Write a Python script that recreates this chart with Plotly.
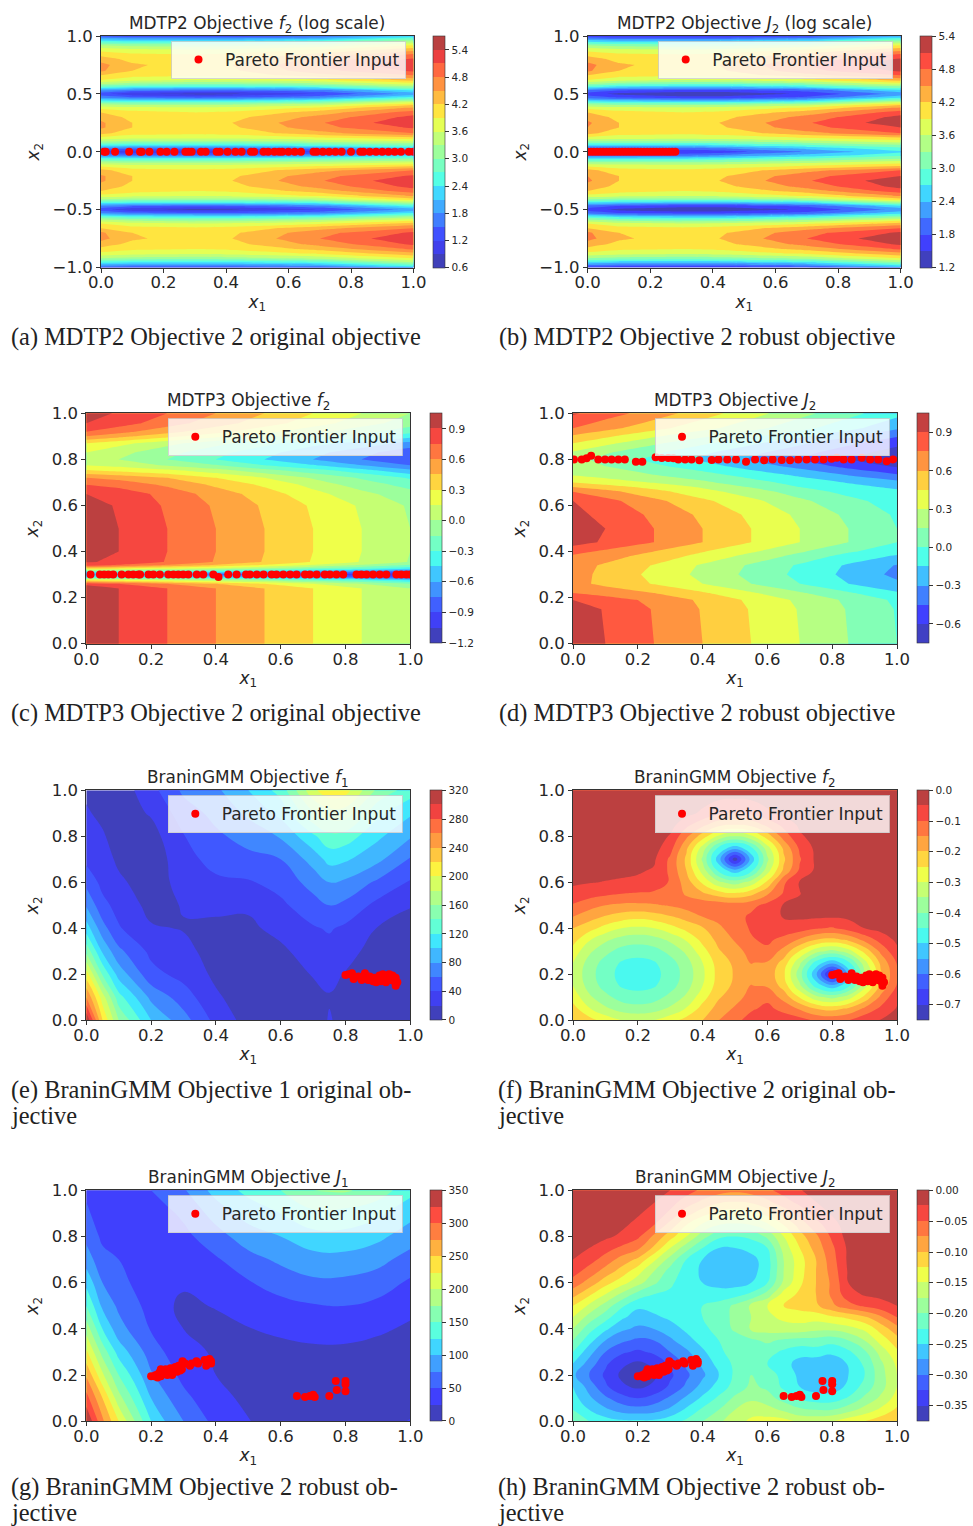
import plotly.graph_objects as go

# ---------- contour data ----------
A_X = [0, .1, .3, .42, .7, 1]
A_Y_UP = [0, .03, .06, .09, .12, .16, .21, .25, .30, .34, .38, .41, .44, .47, .5, .53, .56, .59, .62, .66, .7, .75, .8, .84, .88, .92, .96, 1]
A_Z_UP = [
 [1.1,1.0,1.0,1.0,1.1,1.4],[1.7,1.6,1.6,1.6,1.8,2.2],[2.6,2.5,2.5,2.5,2.7,3.0],[3.3,3.2,3.2,3.2,3.4,3.6],
 [3.8,3.7,3.7,3.7,3.85,4.1],[4.3,4.0,3.95,4.0,4.4,4.8],[4.55,4.2,4.05,4.15,4.7,5.15],[4.55,4.2,4.05,4.2,4.77,5.35],
 [4.4,4.1,4.0,4.1,4.6,5.2],[4.2,4.0,3.9,3.95,4.35,4.95],[3.8,3.7,3.65,3.7,3.95,4.55],[3.3,3.2,3.2,3.2,3.4,4.1],
 [2.5,2.4,2.4,2.4,2.6,3.3],[1.7,1.5,1.4,1.45,1.7,2.5],[1.3,.95,.8,.85,1.2,1.9],[1.8,1.6,1.5,1.5,1.7,2.4],
 [2.7,2.5,2.4,2.4,2.6,3.2],[3.4,3.2,3.1,3.1,3.3,3.8],[3.9,3.7,3.6,3.65,3.85,4.3],[4.2,4.0,3.95,4.0,4.4,4.8],
 [4.55,4.2,4.0,4.15,4.7,5.15],[4.6,4.25,4.05,4.2,4.8,5.35],[4.35,4.1,4.0,4.1,4.6,5.15],[4.1,3.95,3.9,3.95,4.3,4.85],
 [3.8,3.7,3.65,3.7,3.95,4.4],[3.3,3.2,3.15,3.2,3.4,3.9],[2.4,2.3,2.3,2.3,2.5,3.2],[1.4,1.3,1.3,1.3,1.5,2.2]]
B_Z_UP = [
 [1.4,1.4,1.5,1.62,2.12,2.65],[1.9,1.9,2.0,2.1,2.5,2.9],[2.7,2.7,2.7,2.8,3.0,3.3],[3.3,3.3,3.3,3.3,3.5,3.75],
 [3.8,3.75,3.7,3.75,3.9,4.15],[4.3,4.0,3.95,4.0,4.4,4.8],[4.5,4.2,4.05,4.15,4.7,5.1],[4.55,4.2,4.05,4.2,4.77,5.3],
 [4.4,4.1,4.0,4.1,4.6,5.2],[4.2,4.0,3.9,3.95,4.35,4.95],[3.8,3.7,3.65,3.7,3.95,4.55],[3.3,3.2,3.2,3.2,3.4,4.1],
 [2.6,2.5,2.4,2.4,2.6,3.3],[1.95,1.75,1.6,1.6,1.85,2.6],[1.65,1.4,1.25,1.25,1.55,2.2],[2.0,1.8,1.7,1.7,1.9,2.6],
 [2.8,2.6,2.5,2.5,2.7,3.2],[3.4,3.2,3.1,3.1,3.3,3.8],[3.9,3.7,3.6,3.65,3.85,4.3],[4.2,4.0,3.95,4.0,4.4,4.8],
 [4.55,4.2,4.0,4.15,4.7,5.15],[4.6,4.25,4.05,4.2,4.8,5.35],[4.35,4.1,4.0,4.1,4.6,5.15],[4.1,3.95,3.9,3.95,4.3,4.85],
 [3.8,3.7,3.65,3.7,3.95,4.4],[3.3,3.2,3.15,3.2,3.4,3.9],[2.5,2.4,2.4,2.4,2.6,3.2],[1.6,1.5,1.5,1.5,1.7,2.3]]

C_X = [0, .1, .25, .4, .55, .7, .85, 1]
C_Y = [0, .24, .26, .275, .29, .3, .31, .325, .34, .355, .4, .5, .6, .65, .69, .72, .75, .775, .8, .83, .87, .9, .92, .957, 1]
C_Z = [
 [1,.9,.75,.6,.45,.3,.15,0],[1,.9,.75,.6,.45,.3,.15,0],[.85,.75,.6,.45,.3,.15,0,-.15],[.3,.25,.15,.05,-.05,-.2,-.3,-.45],
 [-.4,-.4,-.45,-.5,-.6,-.7,-.8,-.9],[-.6,-.65,-.7,-.8,-.85,-.9,-1.0,-1.1],[-.4,-.4,-.45,-.5,-.6,-.7,-.8,-.9],
 [.3,.25,.15,.05,-.05,-.2,-.3,-.45],[.8,.72,.57,.42,.27,.12,-.03,-.18],[.91,.88,.74,.59,.44,.29,.14,-.01],
 [1,.9,.75,.6,.45,.3,.15,0],[1,.9,.75,.6,.45,.3,.15,0],[.98,.88,.73,.58,.43,.28,.13,-.02],[.9,.84,.7,.53,.38,.2,.05,-.1],
 [.75,.7,.57,.42,.27,.1,-.08,-.2],[.6,.55,.45,.3,.15,-.02,-.17,-.32],[.33,.28,.2,.08,-.08,-.22,-.37,-.55],
 [.15,.1,-.02,-.14,-.3,-.44,-.6,-.75],[.1,0,-.15,-.3,-.45,-.6,-.75,-.9],[.15,.05,-.1,-.25,-.4,-.55,-.7,-.85],
 [.3,.2,.05,-.1,-.25,-.4,-.5,-.65],[.6,.5,.35,.2,.05,-.1,-.25,-.4],[.75,.65,.5,.35,.2,.05,-.1,-.25],
 [.9,.82,.67,.52,.37,.22,.07,-.08],[.98,.88,.75,.6,.45,.3,.15,0]]

D_Y = [0, .15, .19, .22, .26, .3, .34, .38, .4, .44, .5, .56, .62, .66, .68, .7, .73, .77, .8, .83, .87, .905, .935, 1]
D_Z = [
 [1.0,.9,.75,.6,.45,.3,.15,0],[.97,.89,.74,.59,.44,.29,.14,-.01],[.9,.81,.72,.57,.42,.27,.12,-.03],[.75,.70,.6,.47,.32,.17,.02,-.13],
 [.65,.56,.44,.3,.15,0,-.15,-.27],[.66,.56,.41,.26,.11,-.04,-.19,-.34],[.66,.58,.44,.28,.13,-.02,-.17,-.31],[.73,.66,.54,.4,.25,.1,-.06,-.17],
 [.8,.72,.6,.46,.32,.17,.02,-.08],[.96,.88,.75,.6,.45,.3,.15,0],[1.0,.9,.75,.6,.45,.3,.15,0],[.94,.86,.72,.57,.42,.27,.12,-.02],
 [.9,.8,.64,.48,.34,.18,.05,-.08],[.75,.65,.5,.36,.22,.08,-.05,-.12],[.6,.52,.4,.28,.14,0,-.1,-.18],[.45,.38,.29,.18,.06,-.06,-.16,-.25],
 [.3,.25,.16,.07,-.05,-.17,-.3,-.42],[.22,.15,.03,-.08,-.22,-.35,-.5,-.62],[.2,.1,-.04,-.18,-.32,-.46,-.6,-.75],[.28,.17,.03,-.12,-.26,-.4,-.53,-.68],
 [.45,.34,.18,.03,-.12,-.27,-.42,-.55],[.6,.5,.34,.2,.05,-.1,-.25,-.42],[.75,.65,.5,.35,.2,.05,-.1,-.28],[.92,.82,.68,.52,.36,.2,.05,-.1]]

TENTHS = [0, .1, .2, .3, .4, .5, .6, .7, .8, .9, 1]
TWENTIETHS = [0,.05,.1,.15,.2,.25,.3,.35,.4,.45,.5,.55,.6,.65,.7,.75,.8,.85,.9,.95,1]
E_X = [0, .05, .1, .2, .3, .4, .5, .6, .7, .75, .8, .9, 1]
E_Z = [
 [320,220,160,100,68,34,12,8,13,21,16,10,8],
 [260,190,128,75,50,23,9,8,15,19,15,8,6],
 [210,138,92,47,33,16,8,11,21,24,19,9,6],
 [155,97,65,35,25,13,11,16,30,33,26,13,8],
 [110,68,42,22,19,15,16,26,38,42,36,19,13],
 [78,46,33,14,21,25,23,36,52,60,55,34,21],
 [54,34,24,9,28,36,38,47,68,80,76,56,38],
 [35,29,16,7,33,47,54,60,88,107,103,85,58],
 [28,22,12,12,39,56,68,82,116,134,131,104,82],
 [22,16,10,22,50,66,84,106,158,170,170,125,103],
 [17,12,8,33,64,76,100,128,195,215,208,155,130]]
G_X = [0, .05, .1, .2, .25, .3, .4, .5, .6, .7, .8, .9, 1]
G_Z = [
 [350,280,225,125,96,75,42,26,14,8,6,10,27],
 [310,250,185,100,77,57,32,20,10,5,4,7,8],
 [272,205,150,78,60,43,25,16,9,7,7,9,6],
 [230,165,115,63,47,36,21,16,17,20,20,16,10],
 [190,125,85,48,33,25,20,24,30,34,34,29,21],
 [150,95,70,41,27,22,26,37,43,48,50,44,32],
 [118,75,58,35,26,27,36,48,60,70,69,62,46],
 [88,58,50,31,31,33,47,66,80,90,91,83,65],
 [68,45,40,32,36,43,65,88,100,116,117,106,87],
 [55,36,32,38,45,55,85,110,125,145,142,130,108],
 [45,30,28,50,61,72,110,132,150,175,178,165,133]]
F_Y = [0,.05,.1,.15,.2,.25,.3,.35,.4,.45,.5,.55,.6,.65,.7,.75,.8,.85,.9,1]
F_Z = [
 [-.2,-.23,-.27,-.3,-.31,-.3,-.27,-.23,-.2,-.15,-.114,-.08,-.066,-.071,-.079,-.108,-.114,-.101,-.064,-.047,-.03],
 [-.23,-.295,-.34,-.37,-.38,-.37,-.34,-.295,-.23,-.18,-.142,-.107,-.088,-.115,-.156,-.2,-.215,-.192,-.14,-.088,-.046],
 [-.27,-.34,-.385,-.42,-.43,-.42,-.385,-.34,-.27,-.205,-.171,-.13,-.112,-.168,-.253,-.332,-.366,-.323,-.235,-.138,-.061],
 [-.3,-.37,-.42,-.455,-.465,-.455,-.42,-.37,-.3,-.225,-.19,-.149,-.155,-.22,-.34,-.472,-.537,-.463,-.321,-.188,-.096],
 [-.31,-.38,-.43,-.465,-.47,-.465,-.43,-.38,-.31,-.23,-.195,-.155,-.167,-.24,-.38,-.542,-.737,-.533,-.361,-.208,-.106],
 [-.3,-.37,-.42,-.455,-.465,-.455,-.42,-.37,-.3,-.225,-.19,-.149,-.155,-.22,-.34,-.472,-.537,-.463,-.321,-.188,-.096],
 [-.27,-.34,-.385,-.42,-.43,-.42,-.385,-.34,-.27,-.205,-.171,-.13,-.112,-.168,-.253,-.332,-.366,-.323,-.235,-.138,-.061],
 [-.23,-.295,-.34,-.37,-.38,-.37,-.34,-.295,-.235,-.185,-.145,-.105,-.09,-.115,-.156,-.2,-.215,-.19,-.135,-.08,-.04],
 [-.2,-.23,-.27,-.3,-.31,-.3,-.27,-.235,-.205,-.16,-.125,-.095,-.08,-.07,-.075,-.095,-.105,-.08,-.05,-.035,-.025],
 [-.15,-.18,-.205,-.225,-.235,-.225,-.205,-.18,-.15,-.135,-.12,-.09,-.068,-.047,-.042,-.043,-.045,-.04,-.033,-.026,-.018],
 [-.105,-.13,-.15,-.16,-.16,-.155,-.145,-.13,-.115,-.115,-.125,-.115,-.085,-.045,-.036,-.03,-.025,-.02,-.015,-.012,-.01],
 [-.065,-.08,-.09,-.1,-.105,-.11,-.125,-.155,-.19,-.225,-.24,-.215,-.155,-.095,-.052,-.03,-.02,-.015,-.01,-.008,-.005],
 [-.043,-.047,-.052,-.056,-.06,-.07,-.105,-.175,-.26,-.34,-.375,-.33,-.24,-.11,-.045,-.03,-.015,-.01,-.006,-.004,-.003],
 [-.03,-.033,-.036,-.04,-.045,-.055,-.11,-.2,-.32,-.46,-.53,-.46,-.32,-.19,-.09,-.04,-.015,-.008,-.005,-.003,-.002],
 [-.02,-.022,-.025,-.027,-.03,-.043,-.11,-.21,-.36,-.53,-.73,-.53,-.36,-.21,-.105,-.04,-.018,-.008,-.005,-.003,-.002],
 [-.015,-.016,-.018,-.02,-.022,-.03,-.08,-.19,-.32,-.46,-.53,-.46,-.32,-.19,-.09,-.038,-.014,-.007,-.004,-.002,-.001],
 [-.01,-.011,-.012,-.014,-.016,-.02,-.055,-.14,-.225,-.31,-.35,-.31,-.225,-.13,-.058,-.03,-.012,-.006,-.003,-.001,-.001],
 [-.008,-.008,-.009,-.01,-.011,-.014,-.03,-.085,-.135,-.185,-.2,-.185,-.135,-.085,-.04,-.02,-.008,-.004,-.002,-.001,0],
 [-.005,-.005,-.006,-.007,-.008,-.01,-.018,-.035,-.06,-.09,-.1,-.09,-.06,-.035,-.02,-.01,-.005,-.002,-.002,-.001,0],
 [0,0,0,0,0,0,-.002,-.008,-.015,-.02,-.02,-.02,-.015,-.008,-.002,-.002,-.002,-.001,0,0,0]]
H_Z = [
 [-.21,-.225,-.238,-.245,-.245,-.245,-.235,-.22,-.2,-.18,-.16,-.145,-.14,-.14,-.155,-.155,-.15,-.135,-.125,-.11,-.1],
 [-.225,-.25,-.27,-.285,-.29,-.285,-.27,-.245,-.22,-.2,-.175,-.16,-.165,-.18,-.195,-.2,-.2,-.185,-.165,-.145,-.12],
 [-.24,-.27,-.295,-.315,-.325,-.315,-.295,-.27,-.245,-.22,-.195,-.18,-.19,-.21,-.228,-.238,-.238,-.222,-.195,-.17,-.14],
 [-.25,-.285,-.32,-.345,-.355,-.345,-.32,-.295,-.265,-.24,-.215,-.195,-.205,-.23,-.25,-.262,-.262,-.245,-.215,-.185,-.15],
 [-.27,-.3,-.33,-.355,-.368,-.355,-.33,-.305,-.28,-.25,-.22,-.2,-.21,-.235,-.255,-.268,-.27,-.25,-.225,-.185,-.15],
 [-.25,-.285,-.32,-.345,-.355,-.345,-.32,-.295,-.27,-.24,-.22,-.208,-.225,-.24,-.26,-.265,-.265,-.248,-.22,-.18,-.145],
 [-.225,-.265,-.3,-.32,-.33,-.32,-.3,-.28,-.255,-.23,-.215,-.21,-.215,-.23,-.24,-.237,-.245,-.23,-.205,-.165,-.13],
 [-.2,-.24,-.275,-.295,-.305,-.3,-.28,-.26,-.24,-.225,-.215,-.205,-.195,-.205,-.21,-.21,-.215,-.2,-.175,-.14,-.11],
 [-.175,-.215,-.245,-.27,-.28,-.275,-.262,-.245,-.23,-.218,-.195,-.172,-.165,-.16,-.16,-.168,-.168,-.16,-.145,-.115,-.085],
 [-.15,-.185,-.215,-.245,-.262,-.255,-.245,-.235,-.225,-.21,-.195,-.175,-.155,-.145,-.14,-.14,-.13,-.12,-.105,-.08,-.05],
 [-.125,-.155,-.185,-.22,-.245,-.24,-.235,-.23,-.225,-.215,-.195,-.17,-.15,-.125,-.115,-.105,-.08,-.06,-.045,-.035,-.025],
 [-.09,-.12,-.15,-.18,-.21,-.225,-.23,-.235,-.235,-.24,-.235,-.22,-.19,-.14,-.12,-.1,-.07,-.035,-.022,-.018,-.015],
 [-.06,-.085,-.115,-.14,-.165,-.195,-.22,-.24,-.25,-.258,-.26,-.25,-.225,-.17,-.13,-.1,-.07,-.025,-.012,-.01,-.008],
 [-.04,-.06,-.085,-.11,-.14,-.175,-.21,-.235,-.255,-.268,-.27,-.26,-.235,-.175,-.135,-.1,-.065,-.022,-.01,-.008,-.005],
 [-.025,-.04,-.06,-.085,-.105,-.145,-.185,-.225,-.25,-.268,-.272,-.26,-.235,-.175,-.135,-.1,-.06,-.02,-.008,-.005,-.003],
 [-.017,-.025,-.04,-.055,-.07,-.105,-.15,-.19,-.225,-.25,-.25,-.24,-.225,-.165,-.125,-.09,-.055,-.02,-.007,-.004,-.002],
 [-.012,-.015,-.02,-.03,-.045,-.08,-.115,-.15,-.19,-.22,-.225,-.22,-.195,-.15,-.11,-.08,-.045,-.015,-.005,-.002,-.001],
 [-.008,-.01,-.013,-.02,-.032,-.05,-.085,-.125,-.155,-.175,-.18,-.175,-.155,-.125,-.09,-.06,-.035,-.012,-.004,-.002,-.001],
 [-.005,-.006,-.008,-.015,-.022,-.035,-.055,-.09,-.115,-.135,-.14,-.135,-.115,-.09,-.065,-.04,-.022,-.008,-.003,-.001,-.001],
 [-.003,-.003,-.005,-.008,-.012,-.024,-.04,-.06,-.08,-.095,-.1,-.095,-.08,-.06,-.042,-.025,-.012,-.005,-.002,-.001,-.001],
 [-.001,-.001,-.002,-.004,-.006,-.015,-.025,-.04,-.055,-.065,-.07,-.065,-.055,-.04,-.027,-.012,-.006,-.002,-.001,-.001,-.001]]

# ---------- Pareto points ----------
A_PX = [.01,.015,.045,.09,.125,.13,.155,.19,.21,.235,.27,.28,.29,.32,.335,.37,.38,.405,.43,.45,.48,.49,.52,.535,.555,.57,.58,.6,.62,.64,.68,.69,.71,.73,.75,.77,.8,.83,.84,.86,.88,.9,.92,.94,.96,.985,1.0]
A_PY = [0] * len(A_PX)
B_PX = [0,.01,.02,.03,.04,.05,.06,.07,.08,.09,.10,.11,.12,.13,.14,.15,.16,.17,.18,.19,.20,.21,.22,.23,.24,.25,.26,.27,.28]
B_PY = [0] * len(B_PX)
C_PX = [.013,.042,.055,.068,.083,.109,.13,.145,.161,.166,.192,.207,.227,.253,.269,.284,.299,.315,.341,.361,.392,.408,.438,.464,.493,.505,.526,.547,.572,.587,.608,.629,.649,.675,.69,.711,.736,.752,.772,.793,.834,.849,.865,.885,.906,.926,.957,.972,.988,1.0]
C_PY = [.3]*21 + [.29] + [.3]*28
D_PX = [.003,.027,.042,.056,.078,.099,.119,.14,.16,.194,.214,.255,.274,.294,.31,.325,.346,.366,.39,.428,.449,.476,.503,.534,.562,.59,.616,.644,.67,.695,.721,.747,.773,.798,.814,.835,.86,.891,.917,.942,.968,.988]
D_PY = [.8,.8,.805,.816,.8,.8,.8,.8,.8,.79,.79,.809,.806,.806,.805,.8,.8,.8,.796,.797,.8,.8,.8,.79,.8,.796,.8,.797,.796,.8,.8,.8,.8,.803,.807,.8,.8,.807,.8,.8,.792,.8]
EF_PX = [.80,.81,.82,.825,.84,.85,.855,.86,.87,.875,.885,.89,.895,.9,.905,.91,.915,.92,.925,.93,.935,.94,.945,.95,.955,.96,.955]
EF_PY = [.197,.2,.205,.18,.19,.175,.19,.205,.175,.19,.17,.185,.165,.18,.195,.17,.2,.18,.165,.185,.2,.175,.195,.17,.15,.165,.185]
GH_PX = [.2,.21,.215,.22,.225,.23,.23,.24,.245,.25,.255,.26,.265,.27,.275,.28,.285,.29,.295,.297,.305,.32,.325,.34,.345,.365,.37,.375,.38,.385,.385,.65,.675,.69,.7,.705,.75,.77,.773,.8,.8,.8]
GH_PY = [.195,.195,.2,.19,.21,.195,.225,.205,.225,.2,.215,.23,.2,.22,.235,.215,.24,.22,.225,.26,.25,.24,.25,.26,.25,.265,.24,.255,.27,.25,.26,.11,.105,.11,.115,.105,.11,.175,.135,.175,.16,.13]

LEGEND_NAME = "Pareto Frontier Input"
TITLES = ["MDTP2 Objective <i>f</i><sub>2</sub> (log scale)", "MDTP2 Objective <i>J</i><sub>2</sub> (log scale)",
          "MDTP3 Objective <i>f</i><sub>2</sub>", "MDTP3 Objective <i>J</i><sub>2</sub>",
          "BraninGMM Objective <i>f</i><sub>1</sub>", "BraninGMM Objective <i>f</i><sub>2</sub>",
          "BraninGMM Objective <i>J</i><sub>1</sub>", "BraninGMM Objective <i>J</i><sub>2</sub>"]
CAPTIONS = [["(a) MDTP2 Objective 2 original objective"], ["(b) MDTP2 Objective 2 robust objective"],
            ["(c) MDTP3 Objective 2 original objective"], ["(d) MDTP3 Objective 2 robust objective"],
            ["(e) BraninGMM Objective 1 original ob-", "jective"], ["(f) BraninGMM Objective 2 original ob-", "jective"],
            ["(g) BraninGMM Objective 2 robust ob-", "jective"], ["(h) BraninGMM Objective 2 robust ob-", "jective"]]
LEVELS = [(0.6, 5.7, .3), (1.2, 5.4, .3), (-1.2, 1.05, .15), (-.75, 1.05, .15), (0, 320, 20), (-.75, 0, .05), (0, 350, 25), (-.375, 0, .025)]
CB_TICKS = [[.6,1.2,1.8,2.4,3.0,3.6,4.2,4.8,5.4], [1.2,1.8,2.4,3.0,3.6,4.2,4.8,5.4],
            [-1.2,-.9,-.6,-.3,0,.3,.6,.9], [-.6,-.3,0,.3,.6,.9],
            [0,40,80,120,160,200,240,280,320], [-.7,-.6,-.5,-.4,-.3,-.2,-.1,0],
            [0,50,100,150,200,250,300,350], [-.35,-.3,-.25,-.2,-.15,-.1,-.05,0]]
CB_FMT = [".1f", ".1f", ".1f", ".1f", "d", ".1f", "d", ".2f"]

A_Y = [-v for v in reversed(A_Y_UP[1:])] + A_Y_UP
A_Z = list(reversed(A_Z_UP[1:])) + A_Z_UP
B_Z = list(reversed(B_Z_UP[1:])) + B_Z_UP
FIELDS = [(A_X, A_Y, A_Z), (A_X, A_Y, B_Z), (C_X, C_Y, C_Z), (C_X, D_Y, D_Z),
          (E_X, TENTHS, E_Z), (TWENTIETHS, F_Y, F_Z), (G_X, TENTHS, G_Z), (TWENTIETHS, TWENTIETHS, H_Z)]
POINTS = [(A_PX, A_PY), (B_PX, B_PY), (C_PX, C_PY), (D_PX, D_PY), (EF_PX, EF_PY), (EF_PX, EF_PY), (GH_PX, GH_PY), (GH_PX, GH_PY)]

# ---------- layout geometry (pixels) ----------
W, H = 973, 1526
BOX = [(101, 413.5, 36, 267.5), (587.7, 900.7, 36, 267.5), (86.3, 410.3, 413.3, 643.7), (573, 897, 413.3, 643.7),
       (86.3, 410.3, 790.3, 1020.3), (573, 897, 790.3, 1020.3), (86.3, 410.3, 1190.3, 1421.3), (573, 897, 1190.3, 1421.3)]
CB_GAP = 19.5
TITLE_Y = [24.5, 24.5, 401.5, 401.5, 778.5, 778.5, 1178.5, 1178.5]
CAP_X = [11, 499, 11, 499, 11, 498, 11, 498]
CAP_Y = [337, 337, 713, 713, 1090, 1090, 1487, 1487]
CAP_LINE = 25
FONT = "DejaVu Sans"
SERIF = "Liberation Serif"
AX = "#333333"


def px(x):
    return x / W


def py(y):
    return 1 - y / H


def jet(t):
    def seg(pts):
        for (a, va), (b, vb) in zip(pts, pts[1:]):
            if t <= b:
                return va + (vb - va) * (t - a) / (b - a)
        return pts[-1][1]
    r = seg([(0, 0), (.35, 0), (.66, 1), (.89, 1), (1, .5)])
    g = seg([(0, 0), (.125, 0), (.375, 1), (.64, 1), (.91, 0), (1, 0)])
    b = seg([(0, .5), (.11, 1), (.34, 1), (.65, 0), (1, 0)])
    return "rgb(%d,%d,%d)" % tuple(round(255 * (.75 * c + .25)) for c in (r, g, b))


def step_scale(n):
    out = []
    for i in range(n):
        c = jet((i + .5) / n)
        out += [[i / n, c], [(i + 1) / n, c]]
    return out


fig = go.Figure()
layout = dict(width=W, height=H, margin=dict(l=0, r=0, t=0, b=0, autoexpand=False), paper_bgcolor="white", plot_bgcolor="white",
              font=dict(family=FONT, color="#262626"), annotations=[], showlegend=True)

for i in range(8):
    s = "" if i == 0 else str(i + 1)
    x0, x1, y0, y1 = BOX[i]
    lo, hi, cs = LEVELS[i]
    n = round((hi - lo) / cs)
    xs, ys, zs = FIELDS[i]
    fig.add_trace(go.Contour(
        x=xs, y=ys, z=zs, xaxis="x" + s, yaxis="y" + s, colorscale=step_scale(n), showscale=False, autocontour=False,
        contours=dict(start=lo + cs, end=hi - cs, size=cs, coloring="fill", showlines=False),
        line=dict(width=0, smoothing=1.3 if i >= 4 else 0), showlegend=False, hoverinfo="skip"))
    # carries the colour bar only: the level range, no visible point
    fig.add_trace(go.Scatter(
        x=[None, None], y=[None, None], xaxis="x" + s, yaxis="y" + s, mode="markers", showlegend=False, hoverinfo="skip",
        marker=dict(color=[lo, hi], coloraxis="coloraxis" + s)))
    fig.add_trace(go.Scatter(
        x=POINTS[i][0], y=POINTS[i][1], xaxis="x" + s, yaxis="y" + s, mode="markers", name=LEGEND_NAME,
        marker=dict(color="#ff0000", size=8), legend="legend" + s, showlegend=True))
    is_mdtp2 = i < 2
    layout["xaxis" + s] = dict(domain=[px(x0), px(x1)], range=[0, 1], anchor="y" + s, tickvals=[0, .2, .4, .6, .8, 1], tickformat=".1f",
                               showgrid=False, zeroline=False, showline=True, mirror=True, linecolor=AX, linewidth=1,
                               ticks="outside", ticklen=4, tickcolor=AX, tickfont=dict(size=16.5), ticklabelstandoff=-4,
                               title=dict(text="<i>x</i><sub>1</sub>", font=dict(size=17), standoff=4))
    layout["yaxis" + s] = dict(domain=[py(y1), py(y0)], range=[-1, 1] if is_mdtp2 else [0, 1], anchor="x" + s,
                               tickvals=[-1, -.5, 0, .5, 1] if is_mdtp2 else [0, .2, .4, .6, .8, 1], tickformat=".1f",
                               showgrid=False, zeroline=False, showline=True, mirror=True, linecolor=AX, linewidth=1,
                               ticks="outside", ticklen=4, tickcolor=AX, tickfont=dict(size=16.5),
                               title=dict(text="<i>x</i><sub>2</sub>", font=dict(size=17), standoff=8))
    pad = 0.0015 * (hi - lo)
    layout["coloraxis" + s] = dict(
        cmin=lo - pad, cmax=hi + pad, colorscale=step_scale(n),
        colorbar=dict(x=px(x1 + CB_GAP), xanchor="left", xpad=0, y=py(y0), yanchor="top", ypad=0, lenmode="pixels", len=y1 - y0,
                      thickness=11.7, thicknessmode="pixels", tickvals=CB_TICKS[i], tickformat=CB_FMT[i], ticks="outside",
                      ticklen=4.5, tickwidth=1, tickcolor=AX, tickfont=dict(size=10.5), outlinewidth=0.6, outlinecolor=AX))
    layout["legend" + s] = dict(x=px(x1 - 242.5), xanchor="left", y=py(y0 + 5), yanchor="top", bgcolor="rgba(255,255,255,0.8)",
                                bordercolor="rgba(204,204,204,0.8)", borderwidth=1, font=dict(size=17), itemwidth=43,
                                itemclick=False, tracegroupgap=0)
    layout["annotations"].append(dict(text=TITLES[i], x=px((x0 + x1) / 2), y=py(TITLE_Y[i]), xref="paper", yref="paper",
                                      xanchor="center", yanchor="middle", showarrow=False, font=dict(size=16.9)))
    for k, line in enumerate(CAPTIONS[i]):
        layout["annotations"].append(dict(text=line, x=px(CAP_X[i]), y=py(CAP_Y[i] + k * CAP_LINE), xref="paper", yref="paper",
                                          xanchor="left", yanchor="middle", showarrow=False, xshift=-2,
                                          font=dict(size=24.4, family=SERIF, color="#222222")))

fig.update_layout(**layout)
fig.write_html("out.html", config={"displayModeBar": False},
               post_script="document.body.style.margin='0';document.body.style.overflow='hidden';")
